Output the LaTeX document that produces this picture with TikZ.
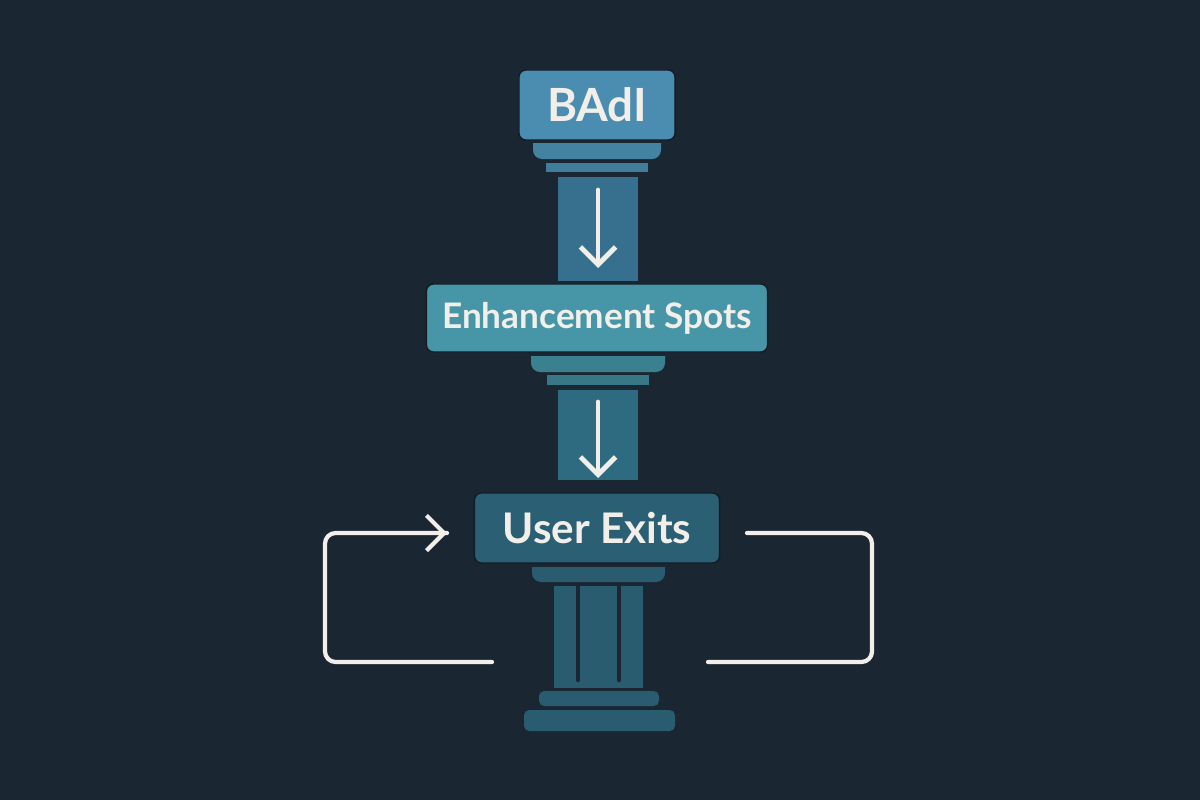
\documentclass[tikz,border=0pt]{standalone}
\usepackage{fontspec}
\setmainfont{Lato}
\usetikzlibrary{arrows.meta, positioning, calc}
\definecolor{bg}{HTML}{1B2633}
\definecolor{badi}{HTML}{4A8DB0}
\definecolor{enh}{HTML}{4696A8}
\definecolor{uex}{HTML}{2A5F74}
\definecolor{shafta}{HTML}{37708F}
\definecolor{shaftb}{HTML}{2F6B80}
\definecolor{shaftc}{HTML}{2A5C70}
\definecolor{wline}{HTML}{F2EFEA}

\tikzset{
  box/.style={rectangle, rounded corners=2pt, draw=bg!70!black, line width=0.4pt, text=wline, font=\bfseries, inner sep=0pt},
  flow/.style={->, >={Straight Barb[length=5pt, width=10pt]}, draw=wline, line width=1.4pt, line cap=round},
  loop/.style={draw=wline, line width=1.2pt, line cap=round, rounded corners=3pt}
}

\begin{document}
\begin{tikzpicture}[x=0.01cm, y=-0.01cm]
      \fill[bg] (0,0) rectangle (1200,800);

      % top column
      \node[box, fill=badi, minimum width=1.56cm, minimum height=0.70cm, font=\bfseries\fontsize{13}{15}\selectfont] (badi) at (597,105) {BAdI};
      \fill[badi!92!black] (533,143) -- (661,143) -- (661,150) arc[start angle=0, end angle=-90, radius=0.09cm] -- (542,159) arc[start angle=-90, end angle=-180, radius=0.09cm] -- cycle;
      \fill[badi!88!black] (546,163) rectangle (648,172);
      \fill[shafta] (558,177) rectangle (638,281);
      \coordinate (a1) at (598,190);
      \coordinate (a2) at (598,268);
      \draw[flow] (a1) -- (a2);

      % middle column
      \node[box, fill=enh, minimum width=3.41cm, minimum height=0.68cm, font=\bfseries\fontsize{10}{12}\selectfont] (spots) at (597,318) {Enhancement Spots};
      \fill[enh!85!black] (531,356) -- (665,356) -- (665,363) arc[start angle=0, end angle=-90, radius=0.09cm] -- (540,372) arc[start angle=-90, end angle=-180, radius=0.09cm] -- cycle;
      \fill[enh!80!black] (547,375) rectangle (649,385);
      \fill[shaftb] (558,390) rectangle (638,480);
      \coordinate (b1) at (598,402);
      \coordinate (b2) at (598,478);
      \draw[flow] (b1) -- (b2);

      % bottom column
      \node[box, fill=uex, minimum width=2.45cm, minimum height=0.70cm, font=\bfseries\fontsize{12}{14}\selectfont] (exits) at (597,528) {User Exits};
      \fill[shaftc] (532,567) -- (665,567) -- (665,573) arc[start angle=0, end angle=-90, radius=0.09cm] -- (541,582) arc[start angle=-90, end angle=-180, radius=0.09cm] -- cycle;
      \fill[shaftc] (554,586) rectangle (643,688);
      \draw[bg, line width=1.3pt, line cap=round] (578,586) -- (578,680) (619,586) -- (619,680);
      \fill[shaftc, rounded corners=1.5pt] (539,706) rectangle (659,691);
      \fill[shaftc, rounded corners=1.5pt] (524,731) rectangle (675,710);

      % loops
      \coordinate (l1) at (492,662);
      \coordinate (l2) at (447,533);
      \coordinate (r1) at (747,533);
      \coordinate (r2) at (708,662);
      \draw[loop] (l1) -- (325,662) -- (325,533) -- (l2);
      \draw[flow, line width=1.2pt] ($(l2)+(-10,0)$) -- (l2);
      \draw[loop] (r1) -- (872,533) -- (872,662) -- (r2);
\end{tikzpicture}
\end{document}
